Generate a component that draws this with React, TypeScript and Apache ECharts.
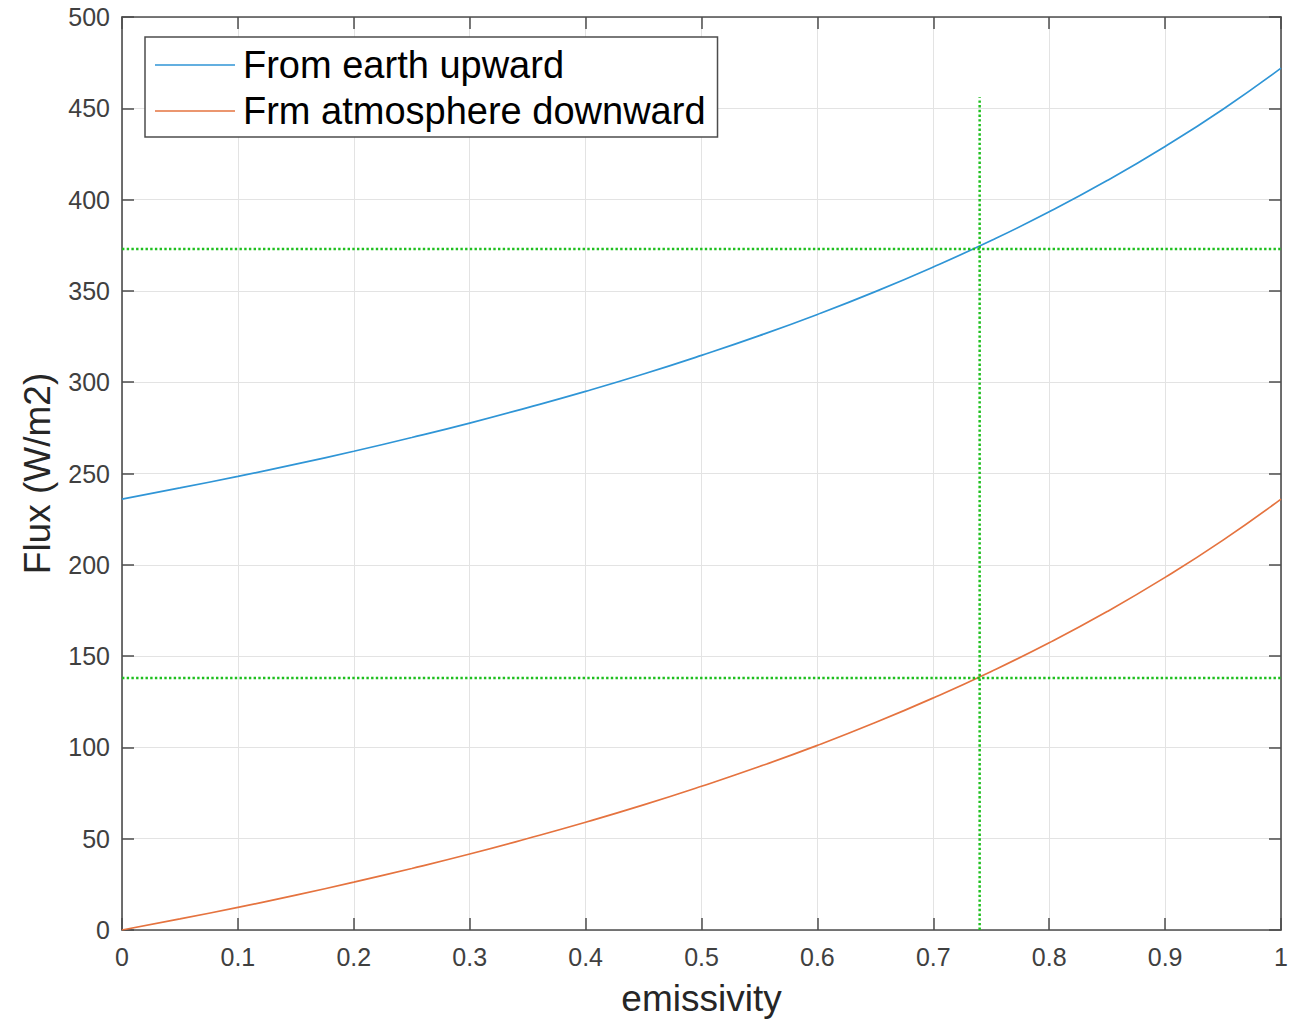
import React, { useEffect, useRef } from "react";
import * as echarts from "echarts";

const emissivity = [0, 0.05, 0.1, 0.15, 0.2, 0.25, 0.3, 0.35, 0.4, 0.45, 0.5, 0.55, 0.6, 0.65, 0.7, 0.75, 0.8, 0.85, 0.9, 0.95, 1.0];
const upward = [236, 242.1, 248.4, 255.1, 262.2, 269.7, 277.6, 286.1, 295, 304.5, 314.7, 325.5, 337.1, 349.6, 363.1, 377.6, 393.3, 410.4, 429.1, 449.5, 472];
const downward = [0, 6.05, 12.4, 19.1, 26.2, 33.7, 41.6, 50.1, 59.0, 68.5, 78.7, 89.5, 101.1, 113.6, 127.1, 141.6, 157.3, 174.4, 193.1, 213.5, 236];
const markerX = 0.74;
const markerTop = 456;
const markerUp = 373;
const markerDown = 138;
const xTicks = ["0", "0.1", "0.2", "0.3", "0.4", "0.5", "0.6", "0.7", "0.8", "0.9", "1"];
const seriesNames = ["From earth upward", "Frm atmosphere downward"];

const FONT = "'Liberation Sans', Arial, Helvetica, sans-serif";
const AX = "#4d4d4d";
const LABEL = "#404040";
const TITLE = "#262626";
const GREEN = "#1fbf1f";
const BLUE = "#2f95d6";
const ORANGE = "#e5733f";

const tickStyle = () => ({ show: true, inside: true, length: 12, lineStyle: { color: AX, width: 1.5 } });
const axisLine = () => ({ show: true, onZero: false, lineStyle: { color: AX, width: 1.6 } });
const dotted = () => ({ color: GREEN, width: 2.5, type: [2.4, 2.3] as any });

export default function App() {
  const ref = useRef<HTMLDivElement>(null);
  useEffect(() => {
    if (!ref.current) return;
    const chart = echarts.init(ref.current, undefined, { renderer: "svg" });
    chart.setOption({
      animation: false,
      backgroundColor: "#ffffff",
      textStyle: { fontFamily: FONT },
      grid: { left: 122, right: 25, top: 17, bottom: 93, containLabel: false },
      legend: {
        data: [
          { name: seriesNames[0], icon: "rect", itemStyle: { color: BLUE } },
          { name: seriesNames[1], icon: "rect", itemStyle: { color: ORANGE } },
        ],
        orient: "vertical",
        left: 145,
        top: 37,
        itemWidth: 80,
        itemHeight: 1.6,
        itemGap: 6,
        padding: [8, 12, 6, 10],
        borderColor: AX,
        borderWidth: 1.5,
        backgroundColor: "#ffffff",
        selectedMode: false,
        textStyle: { fontSize: 38, lineHeight: 40, color: "#000000", fontFamily: FONT, padding: [0, 0, 0, 3] },
      },
      xAxis: [
        {
          type: "value",
          min: 0,
          max: 1,
          interval: 0.1,
          name: "emissivity",
          nameLocation: "middle",
          nameGap: 50,
          nameTextStyle: { fontSize: 37, color: TITLE, fontFamily: FONT },
          axisLine: axisLine(),
          axisTick: tickStyle(),
          axisLabel: {
            fontSize: 25,
            color: LABEL,
            margin: 14,
            fontFamily: FONT,
            formatter: (v: number) => xTicks[Math.round(v * 10)] ?? "",
          },
          splitLine: { show: true, lineStyle: { color: "#e3e3e3", width: 1 } },
        },
        {
          type: "value",
          position: "top",
          min: 0,
          max: 1,
          interval: 0.1,
          axisLine: axisLine(),
          axisTick: tickStyle(),
          axisLabel: { show: false },
          splitLine: { show: false },
        },
      ],
      yAxis: [
        {
          type: "value",
          position: "left",
          min: 0,
          max: 500,
          interval: 50,
          name: "Flux (W/m2)",
          nameLocation: "middle",
          nameGap: 66,
          nameTextStyle: { fontSize: 37, color: TITLE, fontFamily: FONT },
          axisLine: axisLine(),
          axisTick: tickStyle(),
          axisLabel: { fontSize: 25, color: LABEL, margin: 12, fontFamily: FONT },
          splitLine: { show: true, lineStyle: { color: "#e3e3e3", width: 1 } },
        },
        {
          type: "value",
          position: "right",
          min: 0,
          max: 500,
          interval: 50,
          axisLine: axisLine(),
          axisTick: tickStyle(),
          axisLabel: { show: false },
          splitLine: { show: false },
        },
      ],
      series: [
        {
          name: seriesNames[0],
          type: "line",
          data: emissivity.map((e, i) => [e, upward[i]]),
          symbol: "none",
          smooth: true,
          lineStyle: { color: BLUE, width: 1.7 },
          itemStyle: { color: BLUE },
          z: 3,
        },
        {
          name: seriesNames[1],
          type: "line",
          data: emissivity.map((e, i) => [e, downward[i]]),
          symbol: "none",
          smooth: true,
          lineStyle: { color: ORANGE, width: 1.7 },
          itemStyle: { color: ORANGE },
          z: 3,
        },
        {
          name: "vline",
          type: "line",
          data: [[markerX, 0], [markerX, markerTop]],
          symbol: "none",
          lineStyle: dotted(),
          z: 4,
        },
        {
          name: "hline1",
          type: "line",
          data: [[0, markerUp], [1, markerUp]],
          symbol: "none",
          lineStyle: dotted(),
          z: 4,
        },
        {
          name: "hline2",
          type: "line",
          data: [[0, markerDown], [1, markerDown]],
          symbol: "none",
          lineStyle: dotted(),
          z: 4,
        },
      ],
    });
    return () => chart.dispose();
  }, []);
  return (
    <div
      ref={ref}
      style={{ position: "fixed", left: 0, top: 0, width: 1306, height: 1023, background: "#fff" }}
    />
  );
}
